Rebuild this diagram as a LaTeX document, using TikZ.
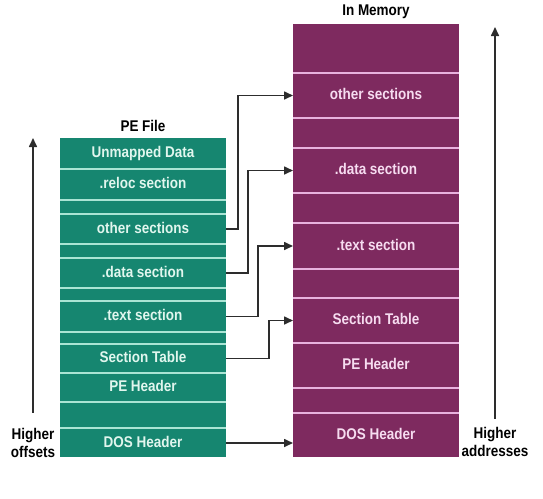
\documentclass[tikz,border=0pt]{standalone}
\usepackage{fontspec}
\setmainfont{Liberation Sans}[FakeStretch=0.87]
\usetikzlibrary{positioning}
\usetikzlibrary{arrows.meta}
\usetikzlibrary{backgrounds}
\definecolor{peGreen}{RGB}{22,134,112}
\definecolor{peLine}{RGB}{170,228,212}
\definecolor{peText}{RGB}{225,246,238}
\definecolor{memPurple}{RGB}{126,42,95}
\definecolor{memLine}{RGB}{232,178,222}
\definecolor{memText}{RGB}{246,220,240}
\definecolor{wire}{RGB}{45,45,45}
\tikzset{
  box/.style     = { rectangle, minimum width=166pt, inner sep=0pt, outer sep=0pt,
                     text height=11.5pt, text depth=3.5pt,
                     font=\bfseries\fontsize{15.5}{18}\selectfont },
  blank/.style   = { text height=0pt, text depth=0pt },
  caption/.style = { font=\bfseries\fontsize{15.5}{18}\selectfont, align=center, inner sep=0pt },
}
\tikzset{
  file/.style    = { box, fill=peGreen, text=peText },
  mem/.style     = { box, fill=memPurple, text=memText },
}
\begin{document}
\begin{tikzpicture}[
  x=1pt,y=-1pt,node distance=2pt,
  >={Triangle[length=9pt,width=8pt]},line width=1.6pt,draw=wire,text=black
]
  \useasboundingbox (0,0) rectangle (543,498);

  % PE file
  \node (fUnmapped) [file,minimum height=30pt,anchor=north west] at (60,138) {Unmapped Data};
  \node (fReloc) [file,minimum height=29pt,below=of fUnmapped] {.reloc section};
  \node (fGap1)  [file,blank,minimum height=12pt,below=of fReloc] {};
  \node (fOther) [file,minimum height=28pt,below=of fGap1] {other sections};
  \node (fGap2)  [file,blank,minimum height=12pt,below=of fOther] {};
  \node (fData)  [file,minimum height=28pt,below=of fGap2] {.data section};
  \node (fGap3)  [file,blank,minimum height=11pt,below=of fData] {};
  \node (fText)  [file,minimum height=29pt,below=of fGap3] {.text section};
  \node (fGap4)  [file,blank,minimum height=10pt,below=of fText] {};
  \node (fSect)  [file,minimum height=27pt,below=of fGap4] {Section Table};
  \node (fPE)    [file,minimum height=27pt,below=of fSect] {PE Header};
  \node (fGap5)  [file,blank,minimum height=24pt,below=of fPE] {};
  \node (fDOS)   [file,minimum height=28pt,below=of fGap5] {DOS Header};
  \node (fTitle) [caption,above=6pt of fUnmapped] {PE File};

  % in memory
  \node (mTop)   [mem,blank,minimum height=48pt,anchor=north west] at (293,24) {};
  \node (mOther) [mem,minimum height=43pt,below=of mTop] {other sections};
  \node (mGap1)  [mem,blank,minimum height=28pt,below=of mOther] {};
  \node (mData)  [mem,minimum height=43pt,below=of mGap1] {.data section};
  \node (mGap2)  [mem,blank,minimum height=28pt,below=of mData] {};
  \node (mText)  [mem,minimum height=44pt,below=of mGap2] {.text section};
  \node (mGap3)  [mem,blank,minimum height=27pt,below=of mText] {};
  \node (mSect)  [mem,minimum height=43pt,below=of mGap3] {Section Table};
  \node (mPE)    [mem,minimum height=43pt,below=of mSect] {PE Header};
  \node (mGap4)  [mem,blank,minimum height=23pt,below=of mPE] {};
  \node (mDOS)   [mem,minimum height=43pt,below=of mGap4] {DOS Header};
  \node (mTitle) [caption,above=4pt of mTop] {In Memory};

  \begin{scope}[on background layer]
    \fill [peLine]  (fUnmapped.north west) rectangle (fDOS.south east);
    \fill [memLine] (mTop.north west) rectangle (mDOS.south east);
  \end{scope}

  \draw [->] (fOther.east) -- ++(12,0) |- (mOther.west);
  \draw [->] (fData.east)  -- ++(22,0) |- (mData.west);
  \draw [->] (fText.east)  -- ++(32,0) |- (mText.west);
  \draw [->] (fSect.east)  -- ++(43,0) |- (mSect.west);
  \draw [->] (fDOS.east)   -- (fDOS.east -| mDOS.west);

  % direction arrows
  \node (offsets)   [caption] at (33,443)  {Higher\\offsets};
  \node (addresses) [caption] at (495,442) {Higher\\addresses};
  \coordinate (offTop)  at (33,138);
  \coordinate (addrTop) at (495,27);
  \draw [->] ([yshift=15pt]offsets.north) -- (offTop);
  \draw [->] ([yshift=8pt]addresses.north) -- (addrTop);
\end{tikzpicture}
\end{document}
